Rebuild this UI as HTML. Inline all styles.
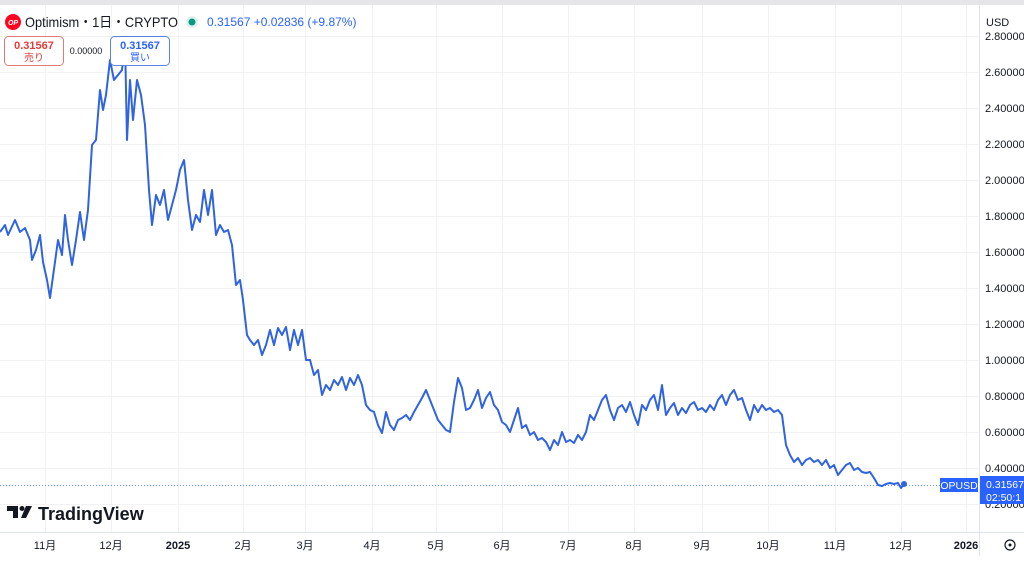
<!DOCTYPE html>
<html><head><meta charset="utf-8"><style>
body{margin:0;width:1024px;height:556px;overflow:hidden;background:#fff;font-family:"Liberation Sans","Noto Sans CJK JP",sans-serif;}
</style></head><body>
<svg width="1024" height="556" xmlns="http://www.w3.org/2000/svg" font-family="Liberation Sans, Noto Sans CJK JP, sans-serif">
<rect x="0" y="0" width="1024" height="5" fill="#e6e6e8"/>
<g stroke="#f2f2f4" stroke-width="1">
<line x1="0" y1="36.5" x2="978" y2="36.5"/><line x1="0" y1="72.5" x2="978" y2="72.5"/><line x1="0" y1="108.5" x2="978" y2="108.5"/><line x1="0" y1="144.5" x2="978" y2="144.5"/><line x1="0" y1="180.5" x2="978" y2="180.5"/><line x1="0" y1="216.5" x2="978" y2="216.5"/><line x1="0" y1="252.5" x2="978" y2="252.5"/><line x1="0" y1="288.5" x2="978" y2="288.5"/><line x1="0" y1="324.5" x2="978" y2="324.5"/><line x1="0" y1="360.5" x2="978" y2="360.5"/><line x1="0" y1="396.5" x2="978" y2="396.5"/><line x1="0" y1="432.5" x2="978" y2="432.5"/><line x1="0" y1="468.5" x2="978" y2="468.5"/><line x1="0" y1="504.5" x2="978" y2="504.5"/>
<line x1="45.5" y1="5" x2="45.5" y2="532"/><line x1="111.5" y1="5" x2="111.5" y2="532"/><line x1="178.5" y1="5" x2="178.5" y2="532"/><line x1="243.5" y1="5" x2="243.5" y2="532"/><line x1="305.5" y1="5" x2="305.5" y2="532"/><line x1="372.5" y1="5" x2="372.5" y2="532"/><line x1="436.5" y1="5" x2="436.5" y2="532"/><line x1="502.5" y1="5" x2="502.5" y2="532"/><line x1="568.5" y1="5" x2="568.5" y2="532"/><line x1="634.5" y1="5" x2="634.5" y2="532"/><line x1="702.5" y1="5" x2="702.5" y2="532"/><line x1="768.5" y1="5" x2="768.5" y2="532"/><line x1="835.5" y1="5" x2="835.5" y2="532"/><line x1="901.5" y1="5" x2="901.5" y2="532"/><line x1="966.5" y1="5" x2="966.5" y2="532"/>
</g>
<line x1="0" y1="532.5" x2="1024" y2="532.5" stroke="#e0e3eb"/>
<line x1="979.5" y1="5" x2="979.5" y2="556" stroke="#e0e3eb"/>
<line x1="0" y1="485.5" x2="978" y2="485.5" stroke="#2962ff" stroke-dasharray="1,2" opacity="0.7"/>
<polyline fill="none" stroke="#2f63e0" stroke-width="2" stroke-linejoin="round" points="0,232 5,225 8,235 15,220 20,232 25,228 30,240 32,260 36,250 40,235 43,262 47,280 50,298 55,262 58,240 62,255 65,215 68,240 72,265 76,240 80,212 84,240 88,210 92,145 96,140 100,90 103,110 106,95 110,60 114,80 118,75 122,70 125,40 127,140 130,80 133,120 137,80 141,95 145,125 149,190 152,225 156,195 160,205 164,190 168,220 172,205 176,190 180,170 184,160 188,200 192,230 196,215 200,222 204,190 208,215 212,190 216,235 220,225 224,232 228,230 232,245 236,285 240,280 243,300 247,335 250,340 254,345 258,340 262,355 266,345 270,330 274,345 278,328 282,335 286,327 290,350 294,330 298,345 302,330 306,360 310,360 314,375 318,370 322,395 326,385 330,390 334,380 338,385 342,377 346,390 350,378 354,385 358,375 362,385 366,405 370,410 374,412 378,425 382,433 386,412 390,425 394,430 398,420 402,418 406,415 410,420 414,412 418,405 422,398 426,390 430,400 434,410 438,420 442,425 446,430 450,432 454,402 458,378 462,388 466,410 470,408 474,400 478,390 482,408 486,398 490,392 494,405 498,410 502,422 506,425 510,432 514,420 518,408 522,428 526,425 530,435 534,432 538,440 542,438 546,442 550,450 554,440 558,445 562,432 566,442 570,440 574,443 578,435 582,440 586,432 590,415 594,420 598,410 602,400 606,395 610,410 614,420 618,408 622,405 626,412 630,402 634,415 638,425 642,405 646,410 650,400 654,395 658,410 662,385 666,415 670,408 674,403 678,415 682,408 686,413 690,405 694,402 698,410 702,408 706,412 710,405 714,410 718,400 722,395 726,405 730,395 734,390 738,400 742,398 746,410 750,420 754,405 758,412 762,405 766,410 770,408 774,412 778,410 782,415 786,445 790,455 794,462 798,458 802,465 806,460 810,458 814,462 818,460 822,465 826,460 830,468 834,465 838,475 842,470 846,465 850,463 854,470 858,468 862,472 866,473 870,472 874,478 878,485 882,486 886,484 890,483 894,484 898,483 901,488 904,484"/>
<circle cx="904" cy="484" r="3" fill="#2f63e0"/>
<g font-size="11" fill="#131722">
<text x="985" y="40">2.80000</text><text x="985" y="76">2.60000</text><text x="985" y="112">2.40000</text><text x="985" y="148">2.20000</text><text x="985" y="184">2.00000</text><text x="985" y="220">1.80000</text><text x="985" y="256">1.60000</text><text x="985" y="292">1.40000</text><text x="985" y="328">1.20000</text><text x="985" y="364">1.00000</text><text x="985" y="400">0.80000</text><text x="985" y="436">0.60000</text><text x="985" y="472">0.40000</text><text x="985" y="508">0.20000</text>
</g>
<rect x="980" y="8" width="44" height="24" fill="#fff"/>
<text x="986" y="26" font-size="11" fill="#131722">USD</text>
<rect x="940" y="478" width="38" height="14" fill="#2962ff"/>
<text x="959" y="489" font-size="10.5" fill="#fff" text-anchor="middle">OPUSD</text>
<rect x="980" y="476" width="44" height="28" fill="#2962ff"/>
<text x="986" y="488" font-size="10.5" fill="#fff">0.31567</text>
<text x="986" y="501" font-size="10.5" fill="#fff">02:50:1</text>
<g font-size="11" fill="#131722" text-anchor="middle">
<text x="45" y="549">11月</text><text x="111" y="549">12月</text><text x="178" y="549" font-weight="bold">2025</text><text x="243" y="549">2月</text><text x="305" y="549">3月</text><text x="372" y="549">4月</text><text x="436" y="549">5月</text><text x="502" y="549">6月</text><text x="568" y="549">7月</text><text x="634" y="549">8月</text><text x="702" y="549">9月</text><text x="768" y="549">10月</text><text x="835" y="549">11月</text><text x="901" y="549">12月</text><text x="966" y="549" font-weight="bold">2026</text>
</g>
<circle cx="1010" cy="545" r="5" fill="none" stroke="#131722" stroke-width="1.2"/><circle cx="1010" cy="545" r="1.5" fill="#131722"/>
<circle cx="13" cy="22" r="8" fill="#ff0420"/><text x="13" y="25" font-size="7" fill="#fff" text-anchor="middle" font-weight="bold" font-style="italic">OP</text>
<text x="25" y="27" font-size="14" fill="#131722" textLength="153" lengthAdjust="spacingAndGlyphs">Optimism・1日・CRYPTO</text>
<circle cx="192" cy="22" r="6" fill="#dff3ee"/><circle cx="192" cy="22" r="3.5" fill="#089981"/>
<text x="207" y="26" font-size="12" fill="#2962ff">0.31567  +0.02836 (+9.87%)</text>
<rect x="4.5" y="36.5" width="59" height="29" rx="4" fill="#fff" stroke="#e07a7a"/>
<text x="34" y="49" font-size="11" fill="#e03d3d" text-anchor="middle" font-weight="bold">0.31567</text>
<text x="34" y="61" font-size="10" fill="#e03d3d" text-anchor="middle">売り</text>
<text x="86" y="54" font-size="9" fill="#131722" text-anchor="middle">0.00000</text>
<rect x="110.5" y="36.5" width="59" height="29" rx="4" fill="#fff" stroke="#5b82e0"/>
<text x="140" y="49" font-size="11" fill="#2962ff" text-anchor="middle" font-weight="bold">0.31567</text>
<text x="140" y="61" font-size="10" fill="#2962ff" text-anchor="middle">買い</text>
<g fill="#131722">
<path d="M7 506 h11 v12 h-5 v-7 h-6z"/><circle cx="22" cy="508.5" r="2.5"/><path d="M26 506 h6 l-6 12 h-5z"/>
</g>
<text x="38" y="520" font-size="18" fill="#131722" font-weight="bold">TradingView</text>
</svg>
</body></html>
